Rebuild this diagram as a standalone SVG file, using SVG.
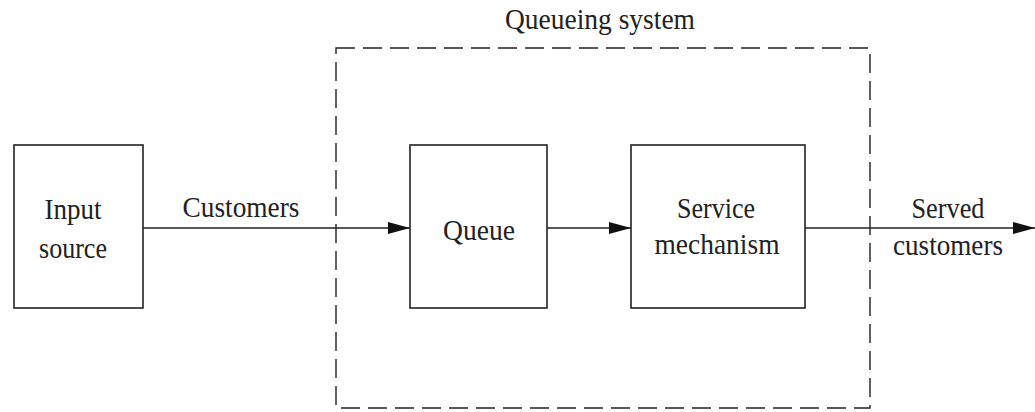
<svg xmlns="http://www.w3.org/2000/svg" width="1035" height="412" viewBox="0 0 1035 412">
<style>
.box{fill:#fff;stroke:#222;stroke-width:1.6}
.lbl{font-family:"Liberation Serif","Times New Roman",serif;font-size:29px;fill:#222;text-anchor:middle}
.conn{stroke:#222;stroke-width:1.6;fill:none}
.dash{fill:none;stroke:#222;stroke-width:1.4;stroke-dasharray:19 8}
</style>
<defs>
<marker id="ah" markerWidth="22" markerHeight="12" refX="22" refY="6" orient="auto" markerUnits="userSpaceOnUse">
<path d="M0,0 L22,6 L0,12 Z" fill="#111"/>
</marker>
</defs>
<rect width="1035" height="412" fill="#fff"/>
<g id="system">
<rect class="dash" x="336" y="48" width="534" height="360"/>
<text class="lbl" x="600" y="29" textLength="190" lengthAdjust="spacingAndGlyphs">Queueing system</text>
</g>
<g id="connectors">
<line class="conn" x1="143" y1="228" x2="410" y2="228" marker-end="url(#ah)"/>
<line class="conn" x1="547" y1="228" x2="631" y2="228" marker-end="url(#ah)"/>
<line class="conn" x1="805" y1="228" x2="1035" y2="228" marker-end="url(#ah)"/>
<text class="lbl" x="241" y="217" textLength="117" lengthAdjust="spacingAndGlyphs">Customers</text>
<text class="lbl" x="948" y="218" textLength="73" lengthAdjust="spacingAndGlyphs">Served</text>
<text class="lbl" x="948" y="255" textLength="110" lengthAdjust="spacingAndGlyphs">customers</text>
</g>
<g id="input">
<rect class="box" x="14" y="145" width="129" height="163"/>
<text class="lbl" x="73" y="219" textLength="57" lengthAdjust="spacingAndGlyphs">Input</text>
<text class="lbl" x="73" y="258" textLength="68" lengthAdjust="spacingAndGlyphs">source</text>
</g>
<g id="queue">
<rect class="box" x="410" y="145" width="137" height="163"/>
<text class="lbl" x="479" y="240" textLength="72" lengthAdjust="spacingAndGlyphs">Queue</text>
</g>
<g id="service">
<rect class="box" x="631" y="145" width="174" height="163"/>
<text class="lbl" x="716" y="218" textLength="78" lengthAdjust="spacingAndGlyphs">Service</text>
<text class="lbl" x="717" y="254" textLength="125" lengthAdjust="spacingAndGlyphs">mechanism</text>
</g>
</svg>
